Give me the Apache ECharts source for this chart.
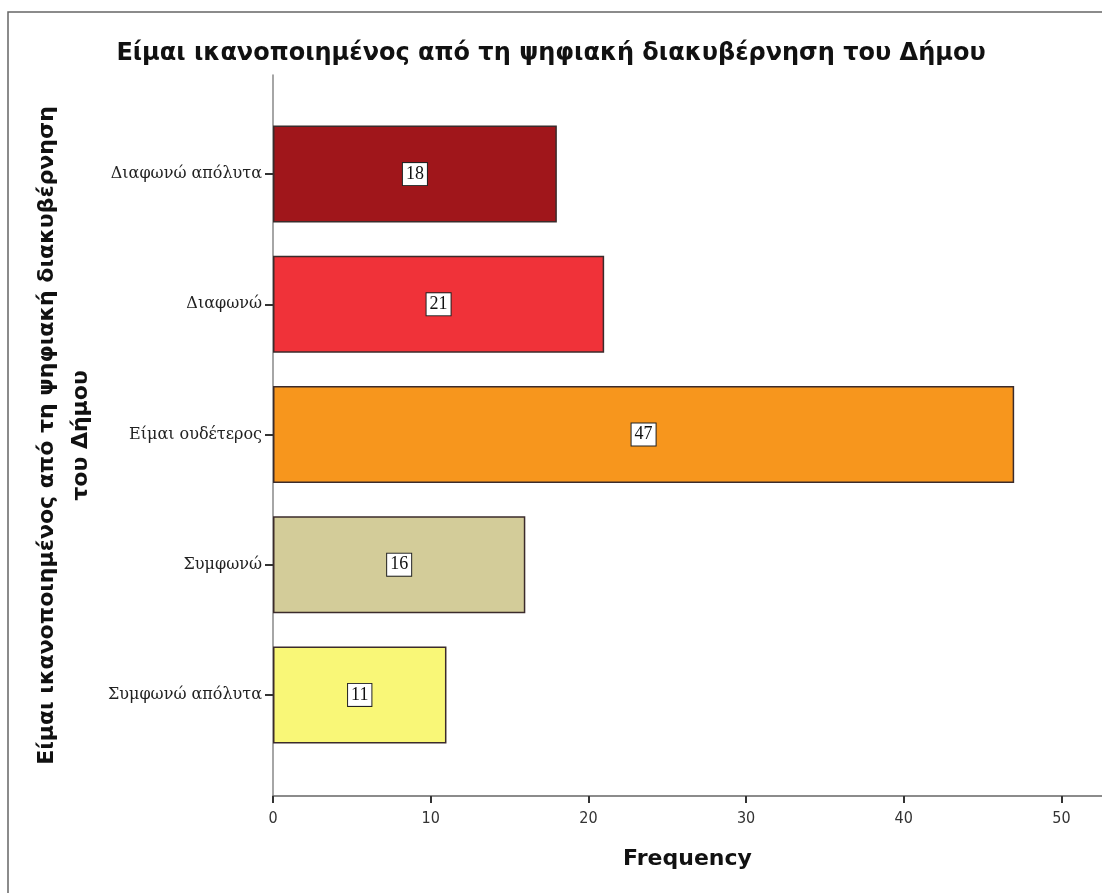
<!DOCTYPE html>
<html>
<head>
<meta charset="utf-8">
<script src="https://cdn.jsdelivr.net/npm/echarts@6/dist/echarts.min.js"></script>
<style>
  html, body { margin: 0; padding: 0; background: #fff; }
  #chart { width: 1102px; height: 893px; }
</style>
</head>
<body>
<div id="chart"></div>
<script>
const titleText = 'Είμαι ικανοποιημένος από τη ψηφιακή διακυβέρνηση του Δήμου';
const yAxisTitle = 'Είμαι ικανοποιημένος από τη ψηφιακή διακυβέρνηση\nτου Δήμου';
const xAxisTitle = 'Frequency';
const categories = ['Διαφωνώ απόλυτα', 'Διαφωνώ', 'Είμαι ουδέτερος', 'Συμφωνώ', 'Συμφωνώ απόλυτα'];
const frequencies = [18, 21, 47, 16, 11];
const barColors = ['#a0161b', '#f03239', '#f7961d', '#d3cc99', '#f9f777'];
const xTicks = [0, 10, 20, 30, 40, 50];
const xMax = 52.57;

const chart = echarts.init(document.getElementById('chart'), null, { renderer: 'canvas' });
const option = {
  animation: false,
  backgroundColor: '#fff',
  title: {
    text: titleText,
    left: 'center',
    top: 37,
    textStyle: { fontFamily: '"DejaVu Sans", sans-serif', fontWeight: 'bold', fontSize: 24, color: '#111' }
  },
  graphic: [{
    type: 'rect', silent: true, z: -10,
    shape: { x: 8, y: 12, width: 1300, height: 1000 },
    style: { fill: 'none', stroke: '#666', lineWidth: 1.5 }
  }],
  grid: [
    { left: 273, right: 0, top: 75, bottom: 97 },
    { left: 273, right: 0, top: 109, bottom: 133 }
  ],
  xAxis: [
    {
      gridIndex: 0, type: 'value', min: 0, max: xMax,
      axisLine: { show: true, onZero: false, lineStyle: { color: '#666', width: 1.5 } },
      axisTick: { show: true, customValues: xTicks, length: 7, lineStyle: { color: '#333', width: 2 } },
      axisLabel: { customValues: xTicks, margin: 15, fontFamily: '"DejaVu Sans Condensed", "DejaVu Sans", sans-serif', fontSize: 16, color: '#333' },
      splitLine: { show: false },
      name: xAxisTitle, nameLocation: 'middle', nameGap: 63,
      nameTextStyle: { fontFamily: '"DejaVu Sans", sans-serif', fontWeight: 'bold', fontSize: 22, color: '#111', verticalAlign: 'middle' }
    },
    { gridIndex: 1, type: 'value', min: 0, max: xMax, show: false }
  ],
  yAxis: [
    {
      gridIndex: 0, type: 'value', min: 0, max: 1,
      axisLine: { show: true, onZero: false, lineStyle: { color: '#888', width: 1.5 } },
      axisTick: { show: false }, axisLabel: { show: false }, splitLine: { show: false },
      name: yAxisTitle, nameLocation: 'middle', nameRotate: 90, nameGap: 209,
      nameTextStyle: { fontFamily: '"DejaVu Sans", sans-serif', fontWeight: 'bold', fontSize: 22, lineHeight: 34, color: '#111', align: 'center', verticalAlign: 'middle' }
    },
    {
      gridIndex: 1, type: 'category', data: categories, inverse: true,
      axisLine: { show: false },
      axisTick: { show: true, alignWithLabel: true, length: 8, lineStyle: { color: '#333', width: 2 } },
      axisLabel: { margin: 11, fontFamily: '"DejaVu Serif", serif', fontSize: 16, color: '#222' },
      splitLine: { show: false }
    }
  ],
  series: [{
    type: 'bar', xAxisIndex: 1, yAxisIndex: 1,
    barWidth: 97,
    data: frequencies.map((v, i) => ({ value: v, itemStyle: { color: barColors[i] } })),
    itemStyle: { borderColor: '#3b2b2b', borderWidth: 1.5 },
    label: {
      show: true, position: 'inside', formatter: '{c}',
      backgroundColor: '#fff', borderColor: '#222', borderWidth: 1,
      padding: [3, 3, 1, 3],
      fontFamily: '"Liberation Serif", "Times New Roman", serif', fontSize: 18, color: '#111'
    }
  }]
};
chart.setOption(option);
</script>
</body>
</html>
